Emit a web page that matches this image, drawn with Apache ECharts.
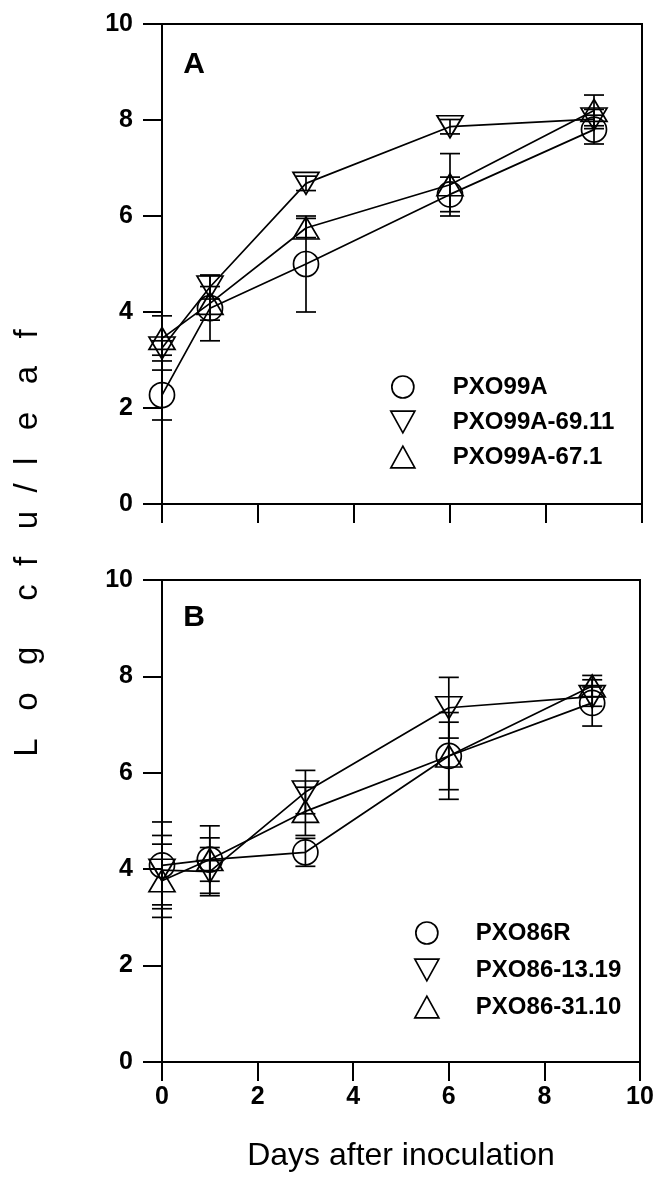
<!DOCTYPE html>
<html><head><meta charset="utf-8">
<script src="https://cdn.jsdelivr.net/npm/echarts@6/dist/echarts.min.js"></script>
<style>html,body{margin:0;padding:0;background:#fff}#c{width:657px;height:1191px}</style>
</head><body><div id="c"></div>
<script>
// ---- data ----
const days = [0, 1, 3, 6, 9];
const yTicks = [0, 2, 4, 6, 8, 10];
const xTicks = [0, 2, 4, 6, 8, 10];

const namesA = ['PXO99A', 'PXO99A-69.11', 'PXO99A-67.1'];
const pxo99A      = [2.27, 4.08, 5.00, 6.45, 7.80];
const pxo99A_err  = [0.52, 0.68, 1.00, 0.36, 0.30];
const pxo99A69    = [3.25, 4.52, 6.68, 7.86, 8.02];
const pxo99A69_err= [0.15, 0.25, 0.15, 0.15, 0.20];
const pxo99A67    = [3.45, 4.18, 5.75, 6.65, 8.20];
const pxo99A67_err= [0.47, 0.35, 0.20, 0.65, 0.32];

const namesB = ['PXO86R', 'PXO86-13.19', 'PXO86-31.10'];
const pxo86R      = [4.08, 4.20, 4.35, 6.35, 7.45];
const pxo86R_err  = [0.90, 0.70, 0.29, 0.90, 0.48];
const pxo8613     = [3.98, 3.95, 5.60, 7.35, 7.58];
const pxo8613_err = [0.72, 0.50, 0.45, 0.63, 0.20];
const pxo8631     = [3.76, 4.20, 5.20, 6.35, 7.80];
const pxo8631_err = [0.76, 0.45, 0.50, 0.70, 0.22];

// ---- styling ----
const FONT = '"Liberation Sans", Arial, sans-serif';
const SYM_CIRCLE = 'circle';
const SYM_DOWN = 'path://M0,0 L20,0 L10,18 Z';
const SYM_UP = 'path://M10,0 L20,18 L0,18 Z';
const symbols = [SYM_CIRCLE, SYM_DOWN, SYM_UP];
const symSizes = [25, [26, 22], [26, 22]];

function lineSeries(name, vals, idx, k) {
  return {
    type: 'line', name: name, xAxisIndex: idx, yAxisIndex: idx,
    data: days.map((d, i) => [d, vals[i]]),
    symbol: symbols[k], symbolSize: symSizes[k], showSymbol: true,
    lineStyle: { color: '#000', width: 1.7 },
    itemStyle: { color: 'rgba(255,255,255,0)', borderColor: '#000', borderWidth: 1.7 },
    emphasis: { disabled: true }, z: 3
  };
}
function errSeries(name, vals, errs, idx) {
  return {
    type: 'custom', name: name, xAxisIndex: idx, yAxisIndex: idx,
    data: days.map((d, i) => [d, vals[i] - errs[i], vals[i] + errs[i]]),
    renderItem: function (params, api) {
      const lo = api.coord([api.value(0), api.value(1)]);
      const hi = api.coord([api.value(0), api.value(2)]);
      const w = 10;
      const st = { stroke: '#000', lineWidth: 1.7 };
      return { type: 'group', children: [
        { type: 'line', shape: { x1: lo[0], y1: lo[1], x2: hi[0], y2: hi[1] }, style: st },
        { type: 'line', shape: { x1: lo[0] - w, y1: lo[1], x2: lo[0] + w, y2: lo[1] }, style: st },
        { type: 'line', shape: { x1: hi[0] - w, y1: hi[1], x2: hi[0] + w, y2: hi[1] }, style: st }
      ]};
    },
    silent: true, z: 2
  };
}
function xAxis(idx, showLabels, name) {
  return {
    gridIndex: idx, type: 'value', min: xTicks[0], max: xTicks[xTicks.length - 1], interval: 2,
    axisLine: { show: true, onZero: false, lineStyle: { color: '#000', width: 2 } },
    axisTick: { show: true, length: 19, lineStyle: { color: '#000', width: 2 } },
    axisLabel: { show: showLabels, fontSize: 25, fontWeight: 'bold', color: '#000', margin: 23, fontFamily: FONT },
    splitLine: { show: false },
    name: name || '', nameLocation: 'middle', nameGap: 78,
    nameTextStyle: { fontSize: 32, color: '#000', fontFamily: FONT }
  };
}
function yAxis(idx) {
  return {
    gridIndex: idx, type: 'value', min: yTicks[0], max: yTicks[yTicks.length - 1], interval: 2,
    axisLine: { show: true, onZero: false, lineStyle: { color: '#000', width: 2 } },
    axisTick: { show: true, length: 19, lineStyle: { color: '#000', width: 2 } },
    axisLabel: { fontSize: 25, fontWeight: 'bold', color: '#000', margin: 29, fontFamily: FONT },
    splitLine: { show: false }
  };
}
function legend(names, left, top, gap, pad) {
  return {
    orient: 'vertical', left: left, top: top, itemGap: gap, itemWidth: 24, itemHeight: 22,
    data: names.map((n, k) => ({ name: n, icon: symbols[k] })),
    itemStyle: { color: 'rgba(255,255,255,0)', borderColor: '#000', borderWidth: 1.7 },
    textStyle: { fontSize: 24, fontWeight: 'bold', color: '#000', fontFamily: FONT, padding: [0, 0, 0, pad] },
    selectedMode: false
  };
}

const option = {
  animation: false,
  backgroundColor: '#fff',
  grid: [
    { left: 162, top: 24, width: 480, height: 480, show: true, borderColor: '#000', borderWidth: 2 },
    { left: 162, top: 580, width: 478, height: 482, show: true, borderColor: '#000', borderWidth: 2 }
  ],
  xAxis: [xAxis(0, false), xAxis(1, true, 'Days after inoculation')],
  yAxis: [yAxis(0), yAxis(1)],
  legend: [legend(namesA, 385, 370, 11, 33), legend(namesB, 409, 916, 13, 32)],
  graphic: [
    { type: 'text', x: 194, y: 65, style: { text: 'A', font: 'bold 30px ' + FONT, fill: '#000', textAlign: 'center', textVerticalAlign: 'middle' } },
    { type: 'text', x: 194, y: 618, style: { text: 'B', font: 'bold 30px ' + FONT, fill: '#000', textAlign: 'center', textVerticalAlign: 'middle' } },
    { type: 'text', x: 28, y: 543, rotation: Math.PI / 2,
      style: { text: 'L   o   g     c  f   u  /  l   e   a   f', font: '33px ' + FONT, fill: '#000', textAlign: 'center', textVerticalAlign: 'middle' } }
  ],
  series: [
    errSeries(namesA[0], pxo99A, pxo99A_err, 0),
    errSeries(namesA[1], pxo99A69, pxo99A69_err, 0),
    errSeries(namesA[2], pxo99A67, pxo99A67_err, 0),
    lineSeries(namesA[0], pxo99A, 0, 0),
    lineSeries(namesA[1], pxo99A69, 0, 1),
    lineSeries(namesA[2], pxo99A67, 0, 2),
    errSeries(namesB[0], pxo86R, pxo86R_err, 1),
    errSeries(namesB[1], pxo8613, pxo8613_err, 1),
    errSeries(namesB[2], pxo8631, pxo8631_err, 1),
    lineSeries(namesB[0], pxo86R, 1, 0),
    lineSeries(namesB[1], pxo8613, 1, 1),
    lineSeries(namesB[2], pxo8631, 1, 2)
  ]
};
const chart = echarts.init(document.getElementById('c'), null, { renderer: 'canvas' });
chart.setOption(option);
</script></body></html>
